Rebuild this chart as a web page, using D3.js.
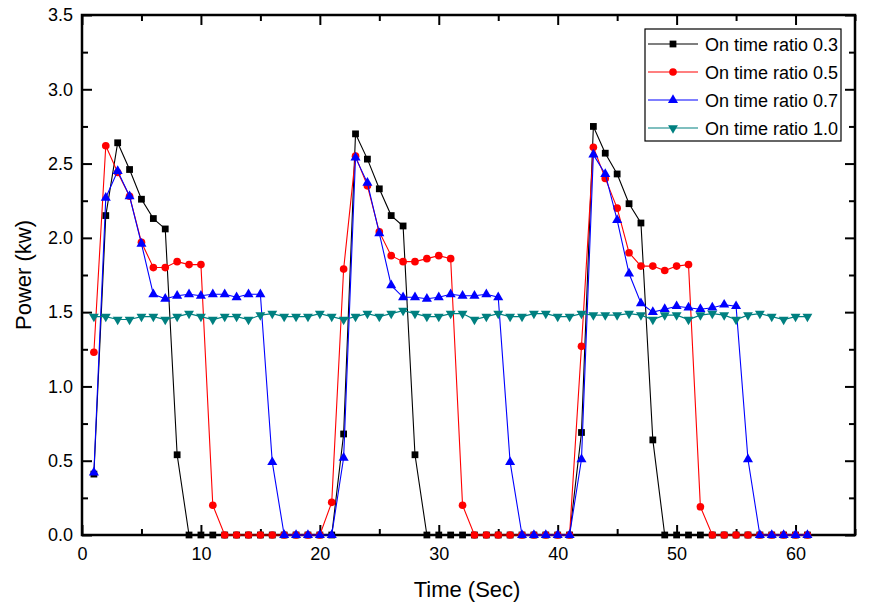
<!DOCTYPE html>
<html>
<head>
<meta charset="utf-8">
<script src="https://cdn.jsdelivr.net/npm/d3@7"></script>
<style>
  body { margin: 0; background: #fff; }
  svg { display: block; font-family: "Liberation Sans", Arial, sans-serif; }
</style>
</head>
<body>
<svg id="chart" width="872" height="611"></svg>
<script>
const seconds = [1,2,3,4,5,6,7,8,9,10,11,12,13,14,15,16,17,18,19,20,21,22,23,24,25,26,27,28,29,30,31,32,33,34,35,36,37,38,39,40,41,42,43,44,45,46,47,48,49,50,51,52,53,54,55,56,57,58,59,60,61];

const ratio03 = [0.41,2.15,2.64,2.46,2.26,2.13,2.06,0.54,
  0,0,0,0,0,0,0,0,0,0,0,0,0,
  0.68,2.70,2.53,2.33,2.15,2.08,0.54,
  0,0,0,0,0,0,0,0,0,0,0,0,0,
  0.69,2.75,2.57,2.43,2.23,2.10,0.64,
  0,0,0,0,0,0,0,0,0,0,0,0,0];

const ratio05 = [1.23,2.62,2.44,2.28,1.97,1.80,1.80,1.84,1.82,1.82,0.20,
  0,0,0,0,0,0,0,0,0,
  0.22,1.79,2.55,2.35,2.04,1.88,1.84,1.84,1.86,1.88,1.86,0.20,
  0,0,0,0,0,0,0,0,0,
  1.27,2.61,2.40,2.20,1.90,1.81,1.81,1.78,1.81,1.82,0.19,
  0,0,0,0,0,0,0,0,0];

const ratio07 = [0.42,2.27,2.45,2.28,1.96,1.62,1.59,1.61,1.62,1.61,1.62,1.62,1.60,1.62,1.62,0.49,
  0,0,0,0,0,
  0.52,2.54,2.37,2.03,1.68,1.60,1.60,1.59,1.60,1.62,1.61,1.61,1.62,1.60,0.49,
  0,0,0,0,0,
  0.51,2.56,2.43,2.12,1.76,1.56,1.50,1.52,1.54,1.53,1.52,1.53,1.55,1.54,0.51,
  0,0,0,0,0];

const ratio10 = [1.47,1.47,1.45,1.45,1.47,1.47,1.45,1.47,1.49,1.47,
  1.45,1.47,1.47,1.45,1.48,1.49,1.47,1.47,1.47,1.49,
  1.47,1.45,1.47,1.49,1.47,1.49,1.51,1.49,1.47,1.47,
  1.49,1.49,1.45,1.47,1.49,1.47,1.47,1.49,1.49,1.47,
  1.47,1.49,1.48,1.48,1.48,1.49,1.48,1.45,1.48,1.48,
  1.45,1.48,1.49,1.48,1.45,1.48,1.49,1.47,1.45,1.47,1.47];

const seriesNames = ["On time ratio 0.3","On time ratio 0.5","On time ratio 0.7","On time ratio 1.0"];
const seriesColors = ["#000000","#ff0000","#0000ff","#008080"];
const seriesSymbols = ["square","circle","triangle","triangleDown"];
const xTicks = [0,10,20,30,40,50,60];
const yTicks = [0,0.5,1.0,1.5,2.0,2.5,3.0,3.5];

const allSeries = [ratio03, ratio05, ratio07, ratio10];

const svg = d3.select("#chart");
const pLeft = 82, pRight = 855, pTop = 15, pBottom = 535;

const x = d3.scaleLinear().domain([0, 65]).range([pLeft, pRight]);
const y = d3.scaleLinear().domain([0, 3.5]).range([pBottom, pTop]);

const majorLen = 10, minorLen = 6;
const xMinor = d3.range(0, 65.01, 5).filter(v => !xTicks.includes(v));
const yMinor = d3.range(0, 3.51, 0.25).filter(v => !yTicks.some(t => Math.abs(t - v) < 1e-6));

function styleAxis(g) {
  g.select(".domain").remove();
  g.selectAll(".tick line").attr("stroke", "#000").attr("stroke-width", 2);
  g.selectAll(".tick text").attr("font-size", 18).attr("fill", "#000")
    .attr("font-family", "Liberation Sans, Arial, sans-serif");
}

// Bottom axis
svg.append("g").attr("transform", `translate(0,${pBottom})`)
  .call(d3.axisBottom(x).tickValues(xTicks).tickFormat(d3.format("d"))
    .tickSize(-majorLen).tickPadding(12)).call(styleAxis);
svg.append("g").attr("transform", `translate(0,${pBottom})`)
  .call(d3.axisBottom(x).tickValues(xMinor).tickSize(-minorLen).tickFormat("")).call(styleAxis);
// Top axis
svg.append("g").attr("transform", `translate(0,${pTop})`)
  .call(d3.axisTop(x).tickValues(xTicks).tickSize(-majorLen).tickFormat("")).call(styleAxis);
svg.append("g").attr("transform", `translate(0,${pTop})`)
  .call(d3.axisTop(x).tickValues(xMinor).tickSize(-minorLen).tickFormat("")).call(styleAxis);
// Left axis
svg.append("g").attr("transform", `translate(${pLeft},0)`)
  .call(d3.axisLeft(y).tickValues(yTicks).tickFormat(d3.format(".1f"))
    .tickSize(-majorLen).tickPadding(9)).call(styleAxis);
svg.append("g").attr("transform", `translate(${pLeft},0)`)
  .call(d3.axisLeft(y).tickValues(yMinor).tickSize(-minorLen).tickFormat("")).call(styleAxis);
// Right axis
svg.append("g").attr("transform", `translate(${pRight},0)`)
  .call(d3.axisRight(y).tickValues(yTicks).tickSize(-majorLen).tickFormat("")).call(styleAxis);
svg.append("g").attr("transform", `translate(${pRight},0)`)
  .call(d3.axisRight(y).tickValues(yMinor).tickSize(-minorLen).tickFormat("")).call(styleAxis);

// Frame
svg.append("rect").attr("x", pLeft).attr("y", pTop).attr("width", pRight - pLeft).attr("height", pBottom - pTop)
  .attr("fill", "none").attr("stroke", "#000").attr("stroke-width", 2.5);

const symbolMap = {
  square: d3.symbolSquare,
  circle: d3.symbolCircle,
  triangle: d3.symbolTriangle,
  triangleDown: d3.symbolTriangle
};
const symbolSize = { square: 46, circle: 46, triangle: 44, triangleDown: 42 };

function drawMarker(g, sym, color, cx, cy) {
  const path = d3.symbol().type(symbolMap[sym]).size(symbolSize[sym])();
  let t = `translate(${cx},${cy})`;
  if (sym === "triangleDown") t += " rotate(180)";
  g.append("path").attr("d", path).attr("transform", t).attr("fill", color);
}

const line = d3.line().x(d => x(d[0])).y(d => y(d[1]));

allSeries.forEach((vals, i) => {
  const pts = seconds.map((s, k) => [s, vals[k]]);
  const g = svg.append("g");
  g.append("path").datum(pts).attr("d", line)
    .attr("fill", "none").attr("stroke", seriesColors[i]).attr("stroke-width", 1.1);
  pts.forEach(p => drawMarker(g, seriesSymbols[i], seriesColors[i], x(p[0]), y(p[1])));
});

// Legend
const lg = svg.append("g");
lg.append("rect").attr("x", 645).attr("y", 29).attr("width", 196).attr("height", 112)
  .attr("fill", "#fff").attr("stroke", "#000").attr("stroke-width", 1.2);
seriesNames.forEach((name, i) => {
  const cy = 44 + i * 28;
  lg.append("line").attr("x1", 648).attr("x2", 698).attr("y1", cy).attr("y2", cy)
    .attr("stroke", seriesColors[i]).attr("stroke-width", 1.1);
  drawMarker(lg, seriesSymbols[i], seriesColors[i], 673, cy);
  lg.append("text").attr("x", 705).attr("y", cy + 6.5).attr("font-size", 18)
    .attr("fill", "#000").text(name);
});

// Axis titles
svg.append("text").attr("x", 467).attr("y", 597).attr("text-anchor", "middle")
  .attr("font-size", 22).attr("fill", "#000").text("Time (Sec)");
svg.append("text").attr("transform", `translate(31,${(pTop + pBottom) / 2}) rotate(-90)`)
  .attr("text-anchor", "middle").attr("font-size", 22).attr("fill", "#000").text("Power (kw)");
</script>
</body>
</html>
